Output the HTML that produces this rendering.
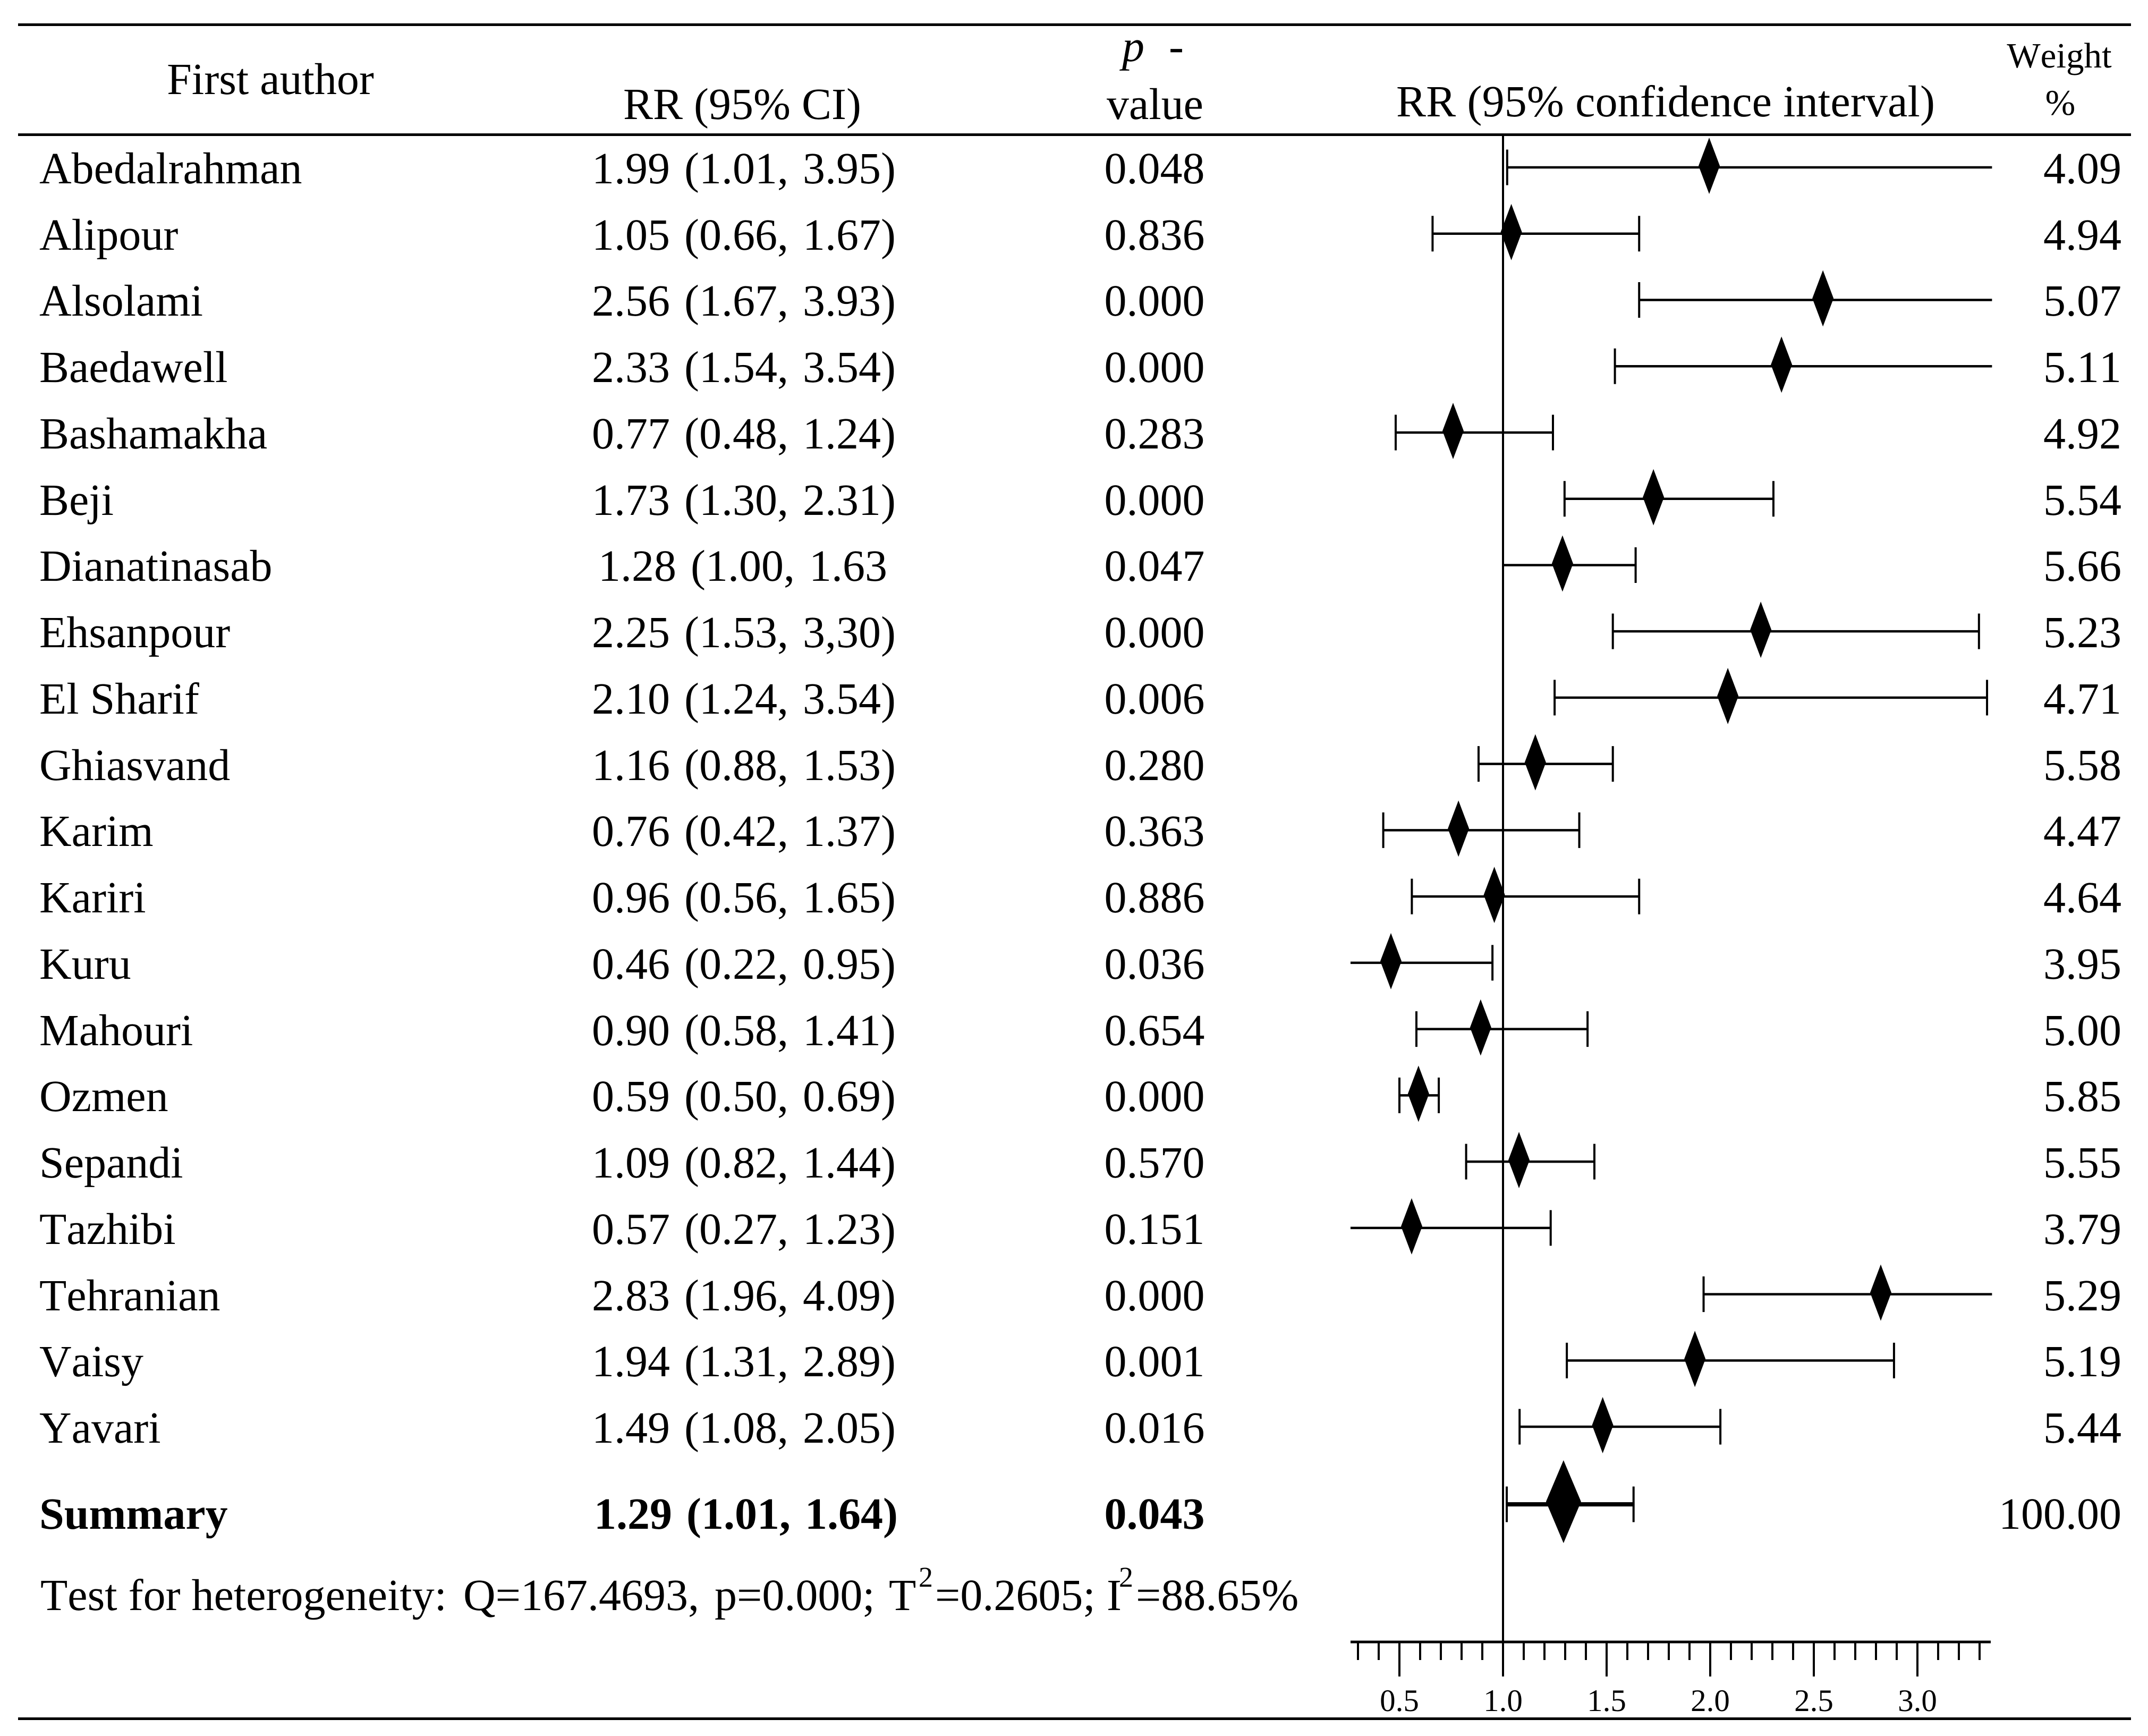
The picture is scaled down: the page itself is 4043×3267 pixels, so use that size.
<!DOCTYPE html>
<html lang="en">
<head>
<meta charset="utf-8">
<title>Forest plot</title>
<style>
html,body{margin:0;padding:0;background:#fff;width:4043px;height:3267px;overflow:hidden}
svg{display:block}
text{font-family:"Liberation Serif","Times New Roman",serif;font-size:84px;fill:#000;text-rendering:geometricPrecision;font-kerning:none}
.m{text-anchor:middle}
.e{text-anchor:end}
.b{font-weight:bold}
.rr{word-spacing:6px}
</style>
</head>
<body>
<svg id="chart" xmlns="http://www.w3.org/2000/svg" width="4043" height="3267" viewBox="0 0 4043 3267">
<rect x="0" y="0" width="4043" height="3267" fill="#fff"/>
<rect x="34" y="44" width="3977" height="5" fill="#000"/>
<rect x="34" y="251" width="3977" height="5" fill="#000"/>
<rect x="34" y="3232" width="3977" height="5" fill="#000"/>

<text x="509" y="177" class="m">First author</text>
<text x="1397" y="224" class="m">RR (95% CI)</text>
<text x="2112" y="115" font-style="italic">p</text>
<text x="2200" y="115">-</text>
<text x="2174" y="224" class="m">value</text>
<text x="3135" y="219" class="m" textLength="1014" lengthAdjust="spacing">RR (95% confidence interval)</text>
<text x="3876" y="127" class="m" style="font-size:67px">Weight</text>
<text x="3878" y="216" class="m" style="font-size:68px">%</text>

<g>
<text x="74" y="345">Abedalrahman</text>
<text x="74" y="470">Alipour</text>
<text x="74" y="594">Alsolami</text>
<text x="74" y="719">Baedawell</text>
<text x="74" y="844">Bashamakha</text>
<text x="74" y="969">Beji</text>
<text x="74" y="1093">Dianatinasab</text>
<text x="74" y="1218">Ehsanpour</text>
<text x="74" y="1343">El Sharif</text>
<text x="74" y="1468">Ghiasvand</text>
<text x="74" y="1592">Karim</text>
<text x="74" y="1717">Kariri</text>
<text x="74" y="1842">Kuru</text>
<text x="74" y="1967">Mahouri</text>
<text x="74" y="2091">Ozmen</text>
<text x="74" y="2216">Sepandi</text>
<text x="74" y="2341">Tazhibi</text>
<text x="74" y="2466">Tehranian</text>
<text x="74" y="2590">Vaisy</text>
<text x="74" y="2715">Yavari</text>
<text x="74" y="2877" class="b">Summary</text>
</g>

<g>
<text x="1400" y="345" class="m rr">1.99 (1.01, 3.95)</text>
<text x="1400" y="470" class="m rr">1.05 (0.66, 1.67)</text>
<text x="1400" y="594" class="m rr">2.56 (1.67, 3.93)</text>
<text x="1400" y="719" class="m rr">2.33 (1.54, 3.54)</text>
<text x="1400" y="844" class="m rr">0.77 (0.48, 1.24)</text>
<text x="1400" y="969" class="m rr">1.73 (1.30, 2.31)</text>
<text x="1398" y="1093" class="m rr">1.28 (1.00, 1.63</text>
<text x="1400" y="1218" class="m rr">2.25 (1.53, 3,30)</text>
<text x="1400" y="1343" class="m rr">2.10 (1.24, 3.54)</text>
<text x="1400" y="1468" class="m rr">1.16 (0.88, 1.53)</text>
<text x="1400" y="1592" class="m rr">0.76 (0.42, 1.37)</text>
<text x="1400" y="1717" class="m rr">0.96 (0.56, 1.65)</text>
<text x="1400" y="1842" class="m rr">0.46 (0.22, 0.95)</text>
<text x="1400" y="1967" class="m rr">0.90 (0.58, 1.41)</text>
<text x="1400" y="2091" class="m rr">0.59 (0.50, 0.69)</text>
<text x="1400" y="2216" class="m rr">1.09 (0.82, 1.44)</text>
<text x="1400" y="2341" class="m rr">0.57 (0.27, 1.23)</text>
<text x="1400" y="2466" class="m rr">2.83 (1.96, 4.09)</text>
<text x="1400" y="2590" class="m rr">1.94 (1.31, 2.89)</text>
<text x="1400" y="2715" class="m rr">1.49 (1.08, 2.05)</text>
<text x="1404" y="2877" class="m b rr">1.29 (1.01, 1.64)</text>
</g>

<g>
<text x="2173" y="345" class="m">0.048</text>
<text x="2173" y="470" class="m">0.836</text>
<text x="2173" y="594" class="m">0.000</text>
<text x="2173" y="719" class="m">0.000</text>
<text x="2173" y="844" class="m">0.283</text>
<text x="2173" y="969" class="m">0.000</text>
<text x="2173" y="1093" class="m">0.047</text>
<text x="2173" y="1218" class="m">0.000</text>
<text x="2173" y="1343" class="m">0.006</text>
<text x="2173" y="1468" class="m">0.280</text>
<text x="2173" y="1592" class="m">0.363</text>
<text x="2173" y="1717" class="m">0.886</text>
<text x="2173" y="1842" class="m">0.036</text>
<text x="2173" y="1967" class="m">0.654</text>
<text x="2173" y="2091" class="m">0.000</text>
<text x="2173" y="2216" class="m">0.570</text>
<text x="2173" y="2341" class="m">0.151</text>
<text x="2173" y="2466" class="m">0.000</text>
<text x="2173" y="2590" class="m">0.001</text>
<text x="2173" y="2715" class="m">0.016</text>
<text x="2173" y="2877" class="m b">0.043</text>
</g>

<g>
<text x="3993" y="345" class="e">4.09</text>
<text x="3993" y="470" class="e">4.94</text>
<text x="3993" y="594" class="e">5.07</text>
<text x="3993" y="719" class="e">5.11</text>
<text x="3993" y="844" class="e">4.92</text>
<text x="3993" y="969" class="e">5.54</text>
<text x="3993" y="1093" class="e">5.66</text>
<text x="3993" y="1218" class="e">5.23</text>
<text x="3993" y="1343" class="e">4.71</text>
<text x="3993" y="1468" class="e">5.58</text>
<text x="3993" y="1592" class="e">4.47</text>
<text x="3993" y="1717" class="e">4.64</text>
<text x="3993" y="1842" class="e">3.95</text>
<text x="3993" y="1967" class="e">5.00</text>
<text x="3993" y="2091" class="e">5.85</text>
<text x="3993" y="2216" class="e">5.55</text>
<text x="3993" y="2341" class="e">3.79</text>
<text x="3993" y="2466" class="e">5.29</text>
<text x="3993" y="2590" class="e">5.19</text>
<text x="3993" y="2715" class="e">5.44</text>
<text x="3993" y="2877" class="e">100.00</text>
</g>

<text x="76" y="3030">Test for heterogeneity: <tspan x="872">Q=167.4693, </tspan><tspan x="1345">p=0.000; </tspan><tspan x="1673">T</tspan><tspan x="1729" dy="-44" style="font-size:54px">2</tspan><tspan x="1760" dy="44">=0.2605; </tspan><tspan x="2083">I</tspan><tspan x="2106" dy="-44" style="font-size:54px">2</tspan><tspan x="2138" dy="44">=88.65%</tspan></text>

<g id="plot"></g>
</svg>
<script>
// Point estimates and interval limits as drawn in the plot, top row to bottom
const studies = ["Abedalrahman","Alipour","Alsolami","Baedawell","Bashamakha","Beji","Dianatinasab","Ehsanpour","El Sharif","Ghiasvand","Karim","Kariri","Kuru","Mahouri","Ozmen","Sepandi","Tazhibi","Tehranian","Vaisy","Yavari"];
const estimates = [1.995,1.04,2.544,2.344,0.759,1.726,1.287,2.244,2.085,1.156,0.785,0.958,0.459,0.892,0.592,1.077,0.559,2.823,1.926,1.481];
const lowerLimits = [1.02,0.66,1.657,1.54,0.482,1.297,1.0,1.53,1.249,0.882,0.422,0.56,0.22,0.582,0.5,0.822,0.27,1.968,1.308,1.08];
const upperLimits = [3.95,1.657,3.93,3.54,1.241,2.305,1.64,3.297,3.336,1.53,1.368,1.657,0.949,1.408,0.69,1.441,1.23,4.09,2.887,2.049];
const summaryEstimate = 1.292;
const summaryLower = 1.018;
const summaryUpper = 1.63;
const majorTickValues = [0.5,1.0,1.5,2.0,2.5,3.0];
const majorTickLabels = ["0.5","1.0","1.5","2.0","2.5","3.0"];
const minorTickValues = [0.3,0.4,0.6,0.7,0.8,0.9,1.1,1.2,1.3,1.4,1.6,1.7,1.8,1.9,2.1,2.2,2.3,2.4,2.6,2.7,2.8,2.9,3.1,3.2,3.3];
const referenceValue = 1;

const NS = "http://www.w3.org/2000/svg";
const plot = document.getElementById("plot");
const domainMin = 0.264;
const domainMax = 3.36;
const lowerCapCutoff = 0.28;
function xScale(v){ return 2829 + 390 * (v - 1); }
function yScale(i){ return 315 + 124.74 * i; }
function make(tag, attrs){
  const el = document.createElementNS(NS, tag);
  for (const k in attrs) el.setAttribute(k, attrs[k]);
  plot.appendChild(el);
  return el;
}
function drawLine(x1, y1, x2, y2, w){
  return make("line", {x1:x1, y1:y1, x2:x2, y2:y2, stroke:"#000", "stroke-width":w});
}
function drawInterval(lo, hi, y, thick, base){
  const loClipped = lo < lowerCapCutoff;
  const hiClipped = hi >= domainMax;
  const xa = loClipped ? xScale(domainMin) : xScale(lo);
  const xb = xScale(Math.min(hi, domainMax));
  const bar = drawLine(xa, y, xb, y, thick);
  
  
  if (!loClipped) {
    const c = drawLine(xa, y - 33.5, xa, y + 33.5, 4);
    
    
  }
  if (!hiClipped) {
    const c = drawLine(xb, y - 33.5, xb, y + 33.5, 4);
    
    
  }
}
function drawDiamond(v, cy, w, h, base){
  const cx = xScale(v);
  const d = make("polygon", {points:[cx,cy-h/2, cx+w/2,cy, cx,cy+h/2, cx-w/2,cy].join(" "), fill:"#000"});
  
  
}

// axis
const axisLine = make("rect", {x:2542, y:3087.5, width:1205, height:5, fill:"#000"});


minorTickValues.forEach(function(v){
  const t = drawLine(xScale(v), 3090, xScale(v), 3124, 4);
  
  
});
majorTickValues.forEach(function(v, i){
  const t = drawLine(xScale(v), 3090, xScale(v), 3155, 4);
  
  
  const label = make("text", {x:xScale(v), y:3220, "text-anchor":"middle", style:"font-size:59px"});
  label.textContent = majorTickLabels[i];
  
  
});

// reference line
const refLine = drawLine(xScale(referenceValue), 256, xScale(referenceValue), 3155, 4);



// study rows
studies.forEach(function(name, i){
  const y = yScale(i);
  const base = 'study-' + name.toLowerCase().replace(/\s+/g, '-');
  drawInterval(lowerLimits[i], upperLimits[i], y, 4.5, base);
  drawDiamond(estimates[i], y - 3, 40, 106, base);
});

// summary row
drawInterval(summaryLower, summaryUpper, 2831, 8, 'summary');
drawDiamond(summaryEstimate, 2826, 66, 156, 'summary');
</script>
</body>
</html>
